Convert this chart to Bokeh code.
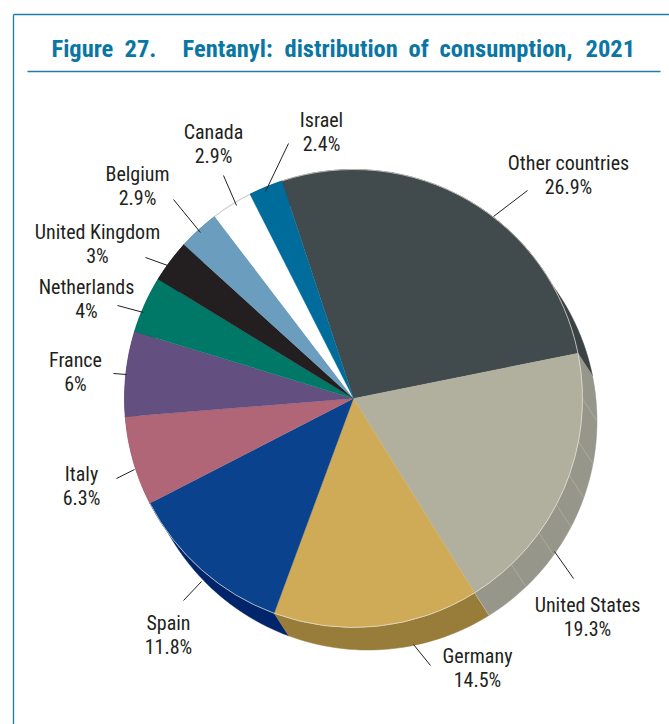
import math
from bokeh.plotting import figure
from bokeh.models import Range1d
from bokeh.core.properties import value
from bokeh.embed import file_html
from bokeh.resources import INLINE

# ---- data ----
countries = ["Other countries", "United States", "Germany", "Spain", "Italy", "France",
             "Netherlands", "United Kingdom", "Belgium", "Canada", "Israel"]
shares = [26.9, 19.3, 14.5, 11.8, 6.3, 6.0, 4.0, 3.0, 2.9, 2.9, 2.4]
share_labels = ["26.9%", "19.3%", "14.5%", "11.8%", "6.3%", "6%", "4%", "3%", "2.9%", "2.9%", "2.4%"]
colours = ["#414a4d", "#b1b09f", "#cfaa57", "#0a428d", "#b16677", "#634f80",
           "#007868", "#231f20", "#6b9dbe", "#ffffff", "#006c9c"]
side_colours = ["#3a4245", "#97968a", "#977c3a", "#00256a", "#8a4f5c", "#4a3b60",
                "#005a4e", "#111111", "#4f7690", "#dddddd", "#00506f"]
title_words = ["Figure", "27.", "Fentanyl:", "distribution", "of", "consumption,", "2021"]
# ---- layout ----
title_x = [51, 124, 182, 284, 408, 439, 585]
W, H = 669, 724
PAGE_H = 724
def Y(py):
    return PAGE_H - py

CX, CY, R = 353, 398, 229
DX, DY = 14.5, 22.5
START = 11.4
us_facets = [0, -10.8, -19.6, -27.6, -35.9, -46.4]

name_pos = [(568, 162), (587, 604), (477, 655), (168, 622), (81, 473), (75, 359),
            (86, 286), (97, 231), (137, 173), (213, 131), (321, 119)]
pct_offset = 24
leaders = [((493, 216), (527, 190)), ((554, 551), (573, 578)), ((413, 644), (430, 665)),
           ((201, 581), (183, 600)), ((134, 469), (116, 478)), ((126, 374), (113, 373)),
           ((143, 312), (117, 305)), ((170, 266), (145, 257)), ((200, 232), (173, 199)),
           ((236, 205), (223, 175)), ((265, 191), (288, 143))]

p = figure(width=W, height=H, output_backend="svg", toolbar_location=None,
           x_range=Range1d(0, W), y_range=Range1d(0, H), min_border=0)
p.axis.visible = False
p.grid.visible = False
p.outline_line_color = None
p.background_fill_color = "white"

FRAME = "#1f7ea6"
p.line([13, 13], [Y(724), Y(14)], line_color=FRAME, line_width=1.3)
p.line([13, 669], [Y(14), Y(14)], line_color=FRAME, line_width=1.3)
p.line([27, 660], [Y(71), Y(71)], line_color=FRAME, line_width=1.3)

TITLE = value("Roboto Condensed, Roboto")
p.text(title_x, [Y(48)] * len(title_x), text=title_words, text_font=TITLE, text_font_size="24.5px",
       text_font_style="bold", text_color="#0a76a4", text_align="left", text_baseline="middle")

# angular spans from the shares
spans = []
a = START + shares[0] * 3.6
for s in shares:
    spans.append((a, a - s * 3.6))
    a -= s * 3.6

def pt(ang, dx=0, dy=0):
    r = math.radians(ang)
    return CX + dx + R * math.cos(r), Y(CY + dy) + R * math.sin(r)

# extruded side, back-to-front
order = sorted(range(len(shares)), key=lambda i: -math.sin(math.radians((spans[i][0] + spans[i][1]) / 2)))
for i in order:
    a0, a1 = spans[i]
    n = max(4, int((a0 - a1) / 1.5))
    angs = [a0 + (a1 - a0) * k / n for k in range(n + 1)]
    top = [pt(t) for t in angs]
    bot = [pt(t, DX, DY) for t in reversed(angs)]
    xs = [q[0] for q in top + bot]
    ys = [q[1] for q in top + bot]
    p.patch(xs, ys, fill_color=side_colours[i], line_color=side_colours[i], line_width=0.5)

for t in us_facets:
    x0, y0 = pt(t)
    x1, y1 = pt(t, DX, DY)
    p.line([x0, x1], [y0, y1], line_color="#b9b8aa", line_width=0.6)
x0, y0 = pt(spans[1][1])
x1, y1 = pt(spans[1][1], DX, DY)
p.line([x0, x1], [y0, y1], line_color="#d8d6c8", line_width=0.6)

# top face
for i, (a0, a1) in enumerate(spans):
    p.wedge([CX], [Y(CY)], radius=R, start_angle=math.radians(a1), end_angle=math.radians(a0),
            fill_color=colours[i], line_color=colours[i] if i != 9 else None, line_width=0.3)
# pale rim over the visible side, and of the white slice
for i in (0, 1, 2, 3):
    a0, a1 = spans[i]
    p.arc([CX], [Y(CY)], radius=R, start_angle=math.radians(a1), end_angle=math.radians(a0),
          line_color="#e6e5da", line_width=0.7)
a0, a1 = spans[9]
p.arc([CX], [Y(CY)], radius=R, start_angle=math.radians(a1), end_angle=math.radians(a0),
      line_color="#cfcfcf", line_width=1.2)

# leaders and labels
for (a_, b_) in leaders:
    p.line([a_[0], b_[0]], [Y(a_[1]), Y(b_[1])], line_color="#231f20", line_width=1)

LAB = value("Roboto Condensed, Roboto")
p.text([q[0] for q in name_pos], [Y(q[1]) for q in name_pos], text=countries, text_font=LAB,
       text_font_size="20px", text_color="#231f20", text_align="center", text_baseline="middle")
p.text([q[0] for q in name_pos], [Y(q[1] + pct_offset) for q in name_pos], text=share_labels, text_font=LAB,
       text_font_size="20px", text_color="#231f20", text_align="center", text_baseline="middle")

open("out.html", "w").write(file_html(p, INLINE))
